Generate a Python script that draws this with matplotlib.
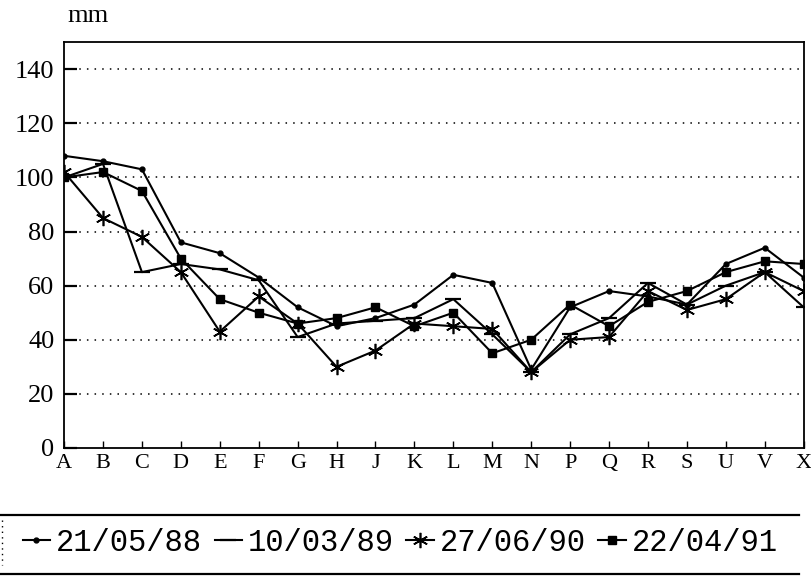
import matplotlib
matplotlib.use("Agg")
import matplotlib.pyplot as plt
from matplotlib.lines import Line2D

categories = ["A", "B", "C", "D", "E", "F", "G", "H", "J", "K",
              "L", "M", "N", "P", "Q", "R", "S", "U", "V", "X"]
s_880521 = [108, 106, 103, 76, 72, 63, 52, 45, 48, 53, 64, 61, 29, 52, 58, 56, 53, 68, 74, 63]
s_890310 = [100, 105, 65, 68, 66, 62, 41, 46, 47, 48, 55, 42, 28, 42, 48, 61, 53, 60, 65, 52]
s_900627 = [102, 85, 78, 65, 43, 56, 46, 30, 36, 46, 45, 44, 28, 40, 41, 58, 51, 55, 65, 58]
s_910422 = [100, 102, 95, 70, 55, 50, 46, 48, 52, 45, 50, 35, 40, 53, 45, 54, 58, 65, 69, 68]
series_labels = ["21/05/88", "10/03/89", "27/06/90", "22/04/91"]
y_ticks = [0, 20, 40, 60, 80, 100, 120, 140]

fig = plt.figure(figsize=(8.11, 5.78), dpi=100)
ax = fig.add_axes([0.079, 0.225, 0.912, 0.702])

x = list(range(len(categories)))
styles = [
    dict(marker="o", markersize=3.5),
    dict(marker="_", markersize=12, markeredgewidth=1.6),
    dict(marker=(6, 2, 0), markersize=11, markeredgewidth=1.2),
    dict(marker="s", markersize=6),
]
for vals, lab, st in zip([s_880521, s_890310, s_900627, s_910422], series_labels, styles):
    ax.plot(x, vals, color="black", linewidth=1.5, label=lab, **st)

ax.set_xlim(0, len(categories) - 1)
ax.set_ylim(0, 150)
ax.set_yticks(y_ticks)
ax.set_xticks(x)
ax.set_xticklabels(categories, family="Liberation Serif", fontsize=16)
ax.set_yticklabels([str(v) for v in y_ticks], family="Liberation Serif", fontsize=19)
ax.tick_params(axis="y", direction="in", length=9, width=1.6, pad=7)
ax.tick_params(axis="x", direction="in", length=5, width=1.0, pad=4)
for v in y_ticks[1:]:
    ax.axhline(v, color="black", linestyle=(0, (1, 4)), linewidth=1.1, zorder=0)
for sp in ax.spines.values():
    sp.set_color("black")
    sp.set_linewidth(1.3)

fig.text(0.083, 0.972, "mm", family="Liberation Serif", fontsize=19, ha="left", va="center")

handles, labels = ax.get_legend_handles_labels()
leg = fig.legend(handles, labels, loc="center left", bbox_to_anchor=(0.028, 1 - 543 / 578),
                 ncol=4, frameon=False, handlelength=0.9, handletextpad=0.2,
                 columnspacing=0.4, borderpad=0.0, borderaxespad=0.0,
                 prop=dict(family="Liberation Mono", size=22))
fig.add_artist(Line2D([0.0, 0.985], [1 - 515 / 578, 1 - 515 / 578], color="black",
                      linewidth=1.6, transform=fig.transFigure))
fig.add_artist(Line2D([0.0, 0.985], [1 - 574 / 578, 1 - 574 / 578], color="black",
                      linewidth=1.6, transform=fig.transFigure))
fig.add_artist(Line2D([0.003, 0.003], [1 - 520 / 578, 1 - 565 / 578], color="black",
                      linewidth=1.0, linestyle=(0, (1, 3)), transform=fig.transFigure))

fig.savefig("out.png", dpi=100)
